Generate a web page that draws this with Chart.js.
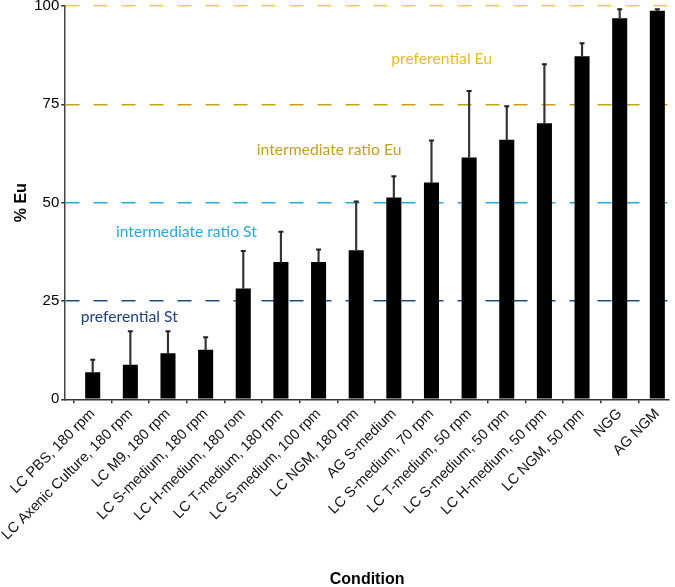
<!DOCTYPE html>
<html>
<head>
<meta charset="utf-8">
<script src="https://cdn.jsdelivr.net/npm/chart.js@4.4.1/dist/chart.umd.min.js"></script>
<style>
  html, body { margin: 0; padding: 0; background: #fff; }
  #wrap { width: 675px; height: 587px; position: relative; }
</style>
</head>
<body>
<div id="wrap"><canvas id="myChart"></canvas></div>
<script>
const conditions = [
    'LC PBS, 180 rpm', 'LC Axenic Culture, 180 rpm', 'LC M9, 180 rpm', 'LC S-medium, 180 rpm',
    'LC H-medium, 180 rom', 'LC T-medium, 180 rpm', 'LC S-medium, 100 rpm', 'LC NGM, 180 rpm',
    'AG S-medium', 'LC S-medium, 70 rpm', 'LC T-medium, 50 rpm', 'LC S-medium, 50 rpm',
    'LC H-medium, 50 rpm', 'LC NGM, 50 rpm', 'NGG', 'AG NGM'
];
const meanEu = [6.9, 8.8, 11.7, 12.6, 28.2, 34.9, 34.9, 37.9, 51.3, 55.1, 61.5, 66.0, 70.2, 87.2, 96.9, 98.8];
const errEu = [3.2, 8.5, 5.6, 3.2, 9.5, 7.7, 3.2, 12.4, 5.4, 10.7, 16.9, 8.5, 15.0, 3.3, 2.3, 0.4];
const yTicks = [0, 25, 50, 75, 100];
const zoneLabels = ['preferential St', 'intermediate ratio St', 'intermediate ratio Eu', 'preferential Eu'];
// where each zone label sits, in data units (x = condition index, y = % Eu)
const zoneAt = [[0.97, 20.9], [2.49, 42.6], [6.28, 63.5], [9.27, 86.6]];

const lineColors = { 25: '#1f4a88', 50: '#2aa8df', 75: '#c4a117', 100: '#f3cf3a' };
const textColors = ['#1d3f80', '#27a8e0', '#c4a022', '#f0bb22'];

const zoneText = {
    id: 'zoneText',
    afterDatasetsDraw(chart) {
        const ctx = chart.ctx;
        const xs = chart.scales.x, ys = chart.scales.y;
        ctx.save();
        ctx.font = '15.7px Lato';
        ctx.textAlign = 'center';
        ctx.textBaseline = 'middle';
        zoneLabels.forEach((t, i) => {
            ctx.fillStyle = textColors[i];
            ctx.fillText(t, xs.getPixelForValue(zoneAt[i][0]), ys.getPixelForValue(zoneAt[i][1]));
        });
        ctx.restore();
    }
};

const ctx = document.getElementById('myChart').getContext('2d');
const myChart = new Chart(ctx, {
    type: 'bar',
    data: {
        datasets: [{
            label: 'caps',
            type: 'line',
            data: meanEu.map((v, i) => ({ x: i, y: v + errEu[i] })),
            showLine: false,
            pointStyle: 'line',
            pointRadius: 2.5,
            pointBorderWidth: 2,
            pointBorderColor: '#222',
            order: 0
        }, {
            label: 'error',
            data: meanEu.map((v, i) => ({ x: i, y: [v, v + errEu[i]] })),
            backgroundColor: '#333',
            barThickness: 1.5,
            grouped: false,
            order: 1
        }, {
            label: '% Eu',
            data: meanEu.map((v, i) => ({ x: i, y: v })),
            backgroundColor: '#000',
            borderWidth: 0,
            barPercentage: 0.4,
            categoryPercentage: 1,
            grouped: false,
            order: 2
        }]
    },
    options: {
        responsive: true,
        maintainAspectRatio: false,
        animation: false,
        layout: { padding: { top: 6, right: 1, left: 8, bottom: 0 } },
        plugins: {
            legend: { display: false },
            tooltip: { enabled: false }
        },
        scales: {
            x: {
                type: 'linear',
                offset: false,
                min: -0.73,
                max: 15.31,
                afterBuildTicks: (s) => { s.ticks = conditions.map((c, i) => ({ value: i })); },
                afterFit: (s) => { s.paddingRight = 0; },
                grid: {
                    drawOnChartArea: false,
                    drawTicks: true,
                    tickLength: 4,
                    color: '#333',
                    lineWidth: 1.5
                },
                border: { color: '#333', width: 1.5 },
                ticks: {
                    autoSkip: false,
                    minRotation: 45,
                    maxRotation: 45,
                    padding: 2,
                    color: '#111',
                    font: { family: "'Liberation Sans', Arial", size: 14.5 },
                    callback: (v) => conditions[v]
                },
                title: {
                    display: true,
                    text: 'Condition',
                    color: '#000',
                    font: { family: "'Liberation Sans', Arial", size: 16, weight: 'bold', lineHeight: 0.9 },
                    padding: { top: 27, bottom: 0 }
                }
            },
            y: {
                min: 0,
                max: 100,
                z: 1,
                afterBuildTicks: (s) => { s.ticks = yTicks.map(v => ({ value: v })); },
                afterFit: (s) => { s.paddingTop = 0; },
                grid: {
                    color: (c) => lineColors[c.tick && c.tick.value] || 'rgba(0,0,0,0)',
                    lineWidth: 1.5,
                    drawTicks: true,
                    tickLength: 4,
                    tickColor: '#333',
                    tickWidth: 1.5,
                    tickBorderDash: []
                },
                border: { color: '#444', width: 1.5, dash: [14, 14] },
                ticks: {
                    padding: 2,
                    color: '#000',
                    font: { family: "'Liberation Sans', Arial", size: 15 }
                },
                title: {
                    display: true,
                    text: '% Eu',
                    color: '#000',
                    font: { family: "'Liberation Sans', Arial", size: 16, weight: 'bold' },
                    padding: { top: 4, bottom: 1 }
                }
            }
        }
    },
    plugins: [zoneText]
});
</script>
</body>
</html>
